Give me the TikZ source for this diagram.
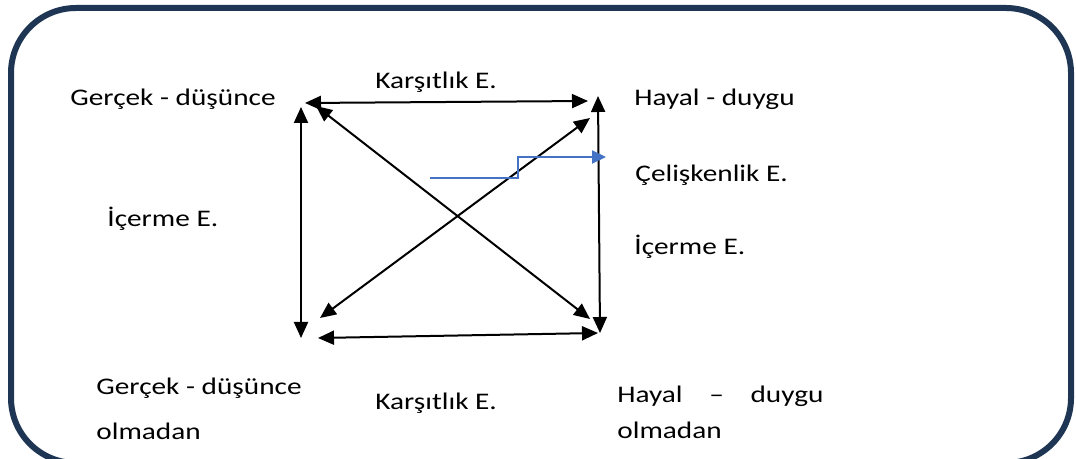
\documentclass[tikz,border=0pt]{standalone}
\usepackage{fontspec}
\setmainfont{Carlito}[FakeStretch=1.23]
\usetikzlibrary{arrows.meta}
\definecolor{framec}{HTML}{1E3653}
\definecolor{bluec}{HTML}{4472C4}
\tikzset{
  lbl/.style={inner sep=0pt, anchor=base west, font=\fontsize{11.9}{14}\selectfont},
  dbl/.style={draw=black, line width=1pt, {Triangle[length=8pt,width=7pt]}-{Triangle[length=8pt,width=7pt]}},
  blu/.style={draw=bluec, line width=1pt, -{Triangle[length=7pt,width=6.5pt]}},
  frame/.style={draw=framec, line width=3pt, rounded corners=32.5pt}
}
\begin{document}
\begin{tikzpicture}[x=0.5pt,y=-0.5pt]
\useasboundingbox (0,0) rectangle (1076,459);
\clip (0,0) rectangle (1076,459);
\draw[frame] (11,8) rectangle (1071,463);
% labels
\node[lbl] (gd) at (70,106) {Gerçek - düşünce};
\node[lbl] (k1) at (375,89) {Karşıtlık E.};
\node[lbl] (hd) at (634,106) {Hayal - duygu};
\node[lbl] (ce) at (635,182) {Çelişkenlik E.};
\node[lbl] (i1) at (107,227) {İçerme E.};
\node[lbl] (i2) at (634,255) {İçerme E.};
\node[lbl] (gdo) at (96,394) {Gerçek - düşünce};
\node[lbl] (o1) at (96,439) {olmadan};
\node[lbl] (k2) at (375,410) {Karşıtlık E.};
\node[lbl] (hdo) at (617,403) {\makebox[103pt][s]{Hayal – duygu}};
\node[lbl] (o2) at (617,438) {olmadan};
% arrow ends
\coordinate (th1) at (305,103);
\coordinate (th2) at (588,101);
\coordinate (lv1) at (301,107);
\coordinate (lv2) at (301,338);
\coordinate (rv1) at (598,96);
\coordinate (rv2) at (600,333);
\coordinate (d1a) at (316,106);
\coordinate (d1b) at (590,319);
\coordinate (d2a) at (320,318);
\coordinate (d2b) at (590,118);
\coordinate (bh1) at (318,338);
\coordinate (bh2) at (598,333);
\coordinate (bs) at (430,178);
\coordinate (bm) at (518,157);
\coordinate (be) at (606,157);
\draw[dbl] (th1) -- (th2);
\draw[dbl] (lv1) -- (lv2);
\draw[dbl] (rv1) -- (rv2);
\draw[dbl] (d1a) -- (d1b);
\draw[dbl] (d2a) -- (d2b);
\draw[dbl] (bh1) -- (bh2);
\draw[blu] (bs) -| (bm) -- (be);
\end{tikzpicture}
\end{document}
